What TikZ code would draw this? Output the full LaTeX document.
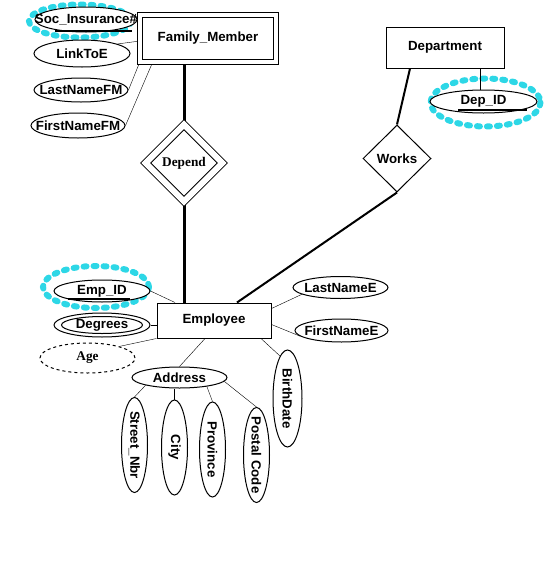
\documentclass[tikz,border=0pt]{standalone}
\usepackage{fontspec}
\setmainfont{Liberation Sans}
\newfontfamily\serifbf{Liberation Serif}
\usetikzlibrary{shapes.geometric}
\pgfdeclarelayer{background}
\pgfsetlayers{background,main}
\definecolor{hilite}{RGB}{45,215,230}

\tikzset{
  entity/.style={draw, fill=white, inner sep=0pt},
  rel/.style={draw, fill=white, diamond, inner sep=0pt},
  attr/.style={draw, fill=white, ellipse, inner sep=0pt, label=center:{#1}},
  vattr/.style={draw, fill=white, ellipse, inner sep=0pt, minimum width=26pt,
    label={[rotate=-90]center:{#1}}},
  keyline/.style={line width=2pt},
  hiliteline/.style={hilite, line width=6pt, dash pattern=on 3pt off 7pt, line cap=round},
}

\begin{document}
\begin{tikzpicture}[x=1pt, y=-1pt, line width=1pt, font=\fontsize{13.3}{16}\selectfont\bfseries]
  \useasboundingbox (0,0) rectangle (547,579);

  % entities and relationships
  \node[entity, double, double distance=4pt, minimum width=135.5pt, minimum height=47pt] (fm) at (208,38) {Family\_Member};
  \node[entity, minimum width=118pt, minimum height=41pt] (dept) at (445,47.5) {Department};
  \node[entity, minimum width=114pt, minimum height=35pt] (emp) at (214,320.5) {Employee};
  \node[rel, double, double distance=6pt, minimum width=77pt, minimum height=77pt,
    font=\fontsize{13.3}{16}\selectfont\serifbf\bfseries] (depend) at (184,163) {Depend};
  \node[rel, minimum width=68pt, minimum height=67pt] (works) at (397,158.5) {Works};

  % attributes
  \node[attr=Soc\_Insurance\#, minimum width=102pt, minimum height=25pt] (socins) at (86,19.5) {};
  \node[attr=LinkToE, minimum width=96pt, minimum height=27pt] (linktoe) at (82,53.5) {};
  \node[attr=LastNameFM, minimum width=94pt, minimum height=24pt] (lnfm) at (81,90) {};
  \node[attr=FirstNameFM, minimum width=94pt, minimum height=25pt] (fnfm) at (78,125.5) {};
  \node[attr=Dep\_ID, minimum width=107pt, minimum height=23pt] (depid) at (483.5,101.5) {};
  \node[attr=Emp\_ID, minimum width=96pt, minimum height=22pt] (empid) at (102,291) {};
  \node[attr=Degrees, minimum width=96pt, minimum height=24pt] (degrees) at (102,325) {};
  \draw (degrees.center) ellipse (40.5 and 8.5);
  \node[attr={\serifbf Age}, dashed, minimum width=95pt, minimum height=30pt] (age) at (87.5,358) {};
  \node[attr=Address, minimum width=95pt, minimum height=21pt] (address) at (179.5,377.5) {};
  \node[attr=LastNameE, minimum width=95pt, minimum height=22pt] (lne) at (340.5,287.5) {};
  \node[attr=FirstNameE, minimum width=93pt, minimum height=23pt] (fne) at (341.5,330.5) {};
  \node[vattr=BirthDate, minimum width=29pt, minimum height=97pt] (birth) at (287.5,398.5) {};
  \foreach \n/\x/\y/\t in {street/134.5/445/Street\_Nbr, city/174.5/447.5/City,
      prov/212.5/449.5/Province, postal/256.5/455/Postal Code}
    \node[vattr=\t, minimum height=95pt] (\n) at (\x,\y) {};

  % keys
  \draw[keyline] ([xshift=-31pt,yshift=-11pt]socins.center) -- ([xshift=46pt,yshift=-11pt]socins.center);
  \draw[keyline] ([xshift=-34pt,yshift=-8pt]empid.center) -- ([xshift=28pt,yshift=-8pt]empid.center);
  \draw[keyline] ([xshift=-25.5pt,yshift=-8.5pt]depid.center) -- ([xshift=43.5pt,yshift=-8.5pt]depid.center);

  \begin{pgfonlayer}{background}
    \draw[hiliteline] ([xshift=-6pt,yshift=-1.5pt]socins.center) ellipse (51 and 16.5);
    \draw[hiliteline] ([xshift=2pt,yshift=-1pt]depid.center) ellipse (55 and 24);
    \draw[hiliteline] ([xshift=-6pt,yshift=4pt]empid.center) ellipse (53 and 21);

    \draw (linktoe.15) -- ([yshift=-3pt]fm.west);
    \draw (lnfm.east) -- (fm.south west);
    \draw (fnfm.east) -- ([xshift=13pt]fm.south west);
    \draw[line width=3pt] (depend.north |- fm.south) -- (depend.north);
    \draw[line width=3pt] (depend.south) -- (depend.south |- emp.north);
    \draw[line width=2pt] ([xshift=-35pt]dept.south) -- (works.north);
    \draw[line width=2pt] (works.south) -- ([xshift=23pt]emp.north);
    \draw ([xshift=35pt]dept.south) -- ([xshift=35pt]dept.south |- depid.north);
    \draw (empid.east) -- ([xshift=-39pt]emp.north);
    \draw (degrees.east) -- (degrees.east -| emp.west);
    \draw (age.20) -- (emp.south west);
    \draw (address.north) -- ([xshift=-9pt]emp.south);
    \draw ([xshift=47pt]emp.south) -- (birth.100);
    \draw ([yshift=12pt]emp.east) -- (lne.190);
    \draw ([yshift=-4pt]emp.east) -- (fne.188);
    \draw (address.south west) -- (street.north);
    \draw (city.north) -- (city.north |- address.south);
    \draw ([xshift=24pt]address.center) -- (prov.north);
    \draw (address.-5) -- (postal.north);
  \end{pgfonlayer}
\end{tikzpicture}
\end{document}
